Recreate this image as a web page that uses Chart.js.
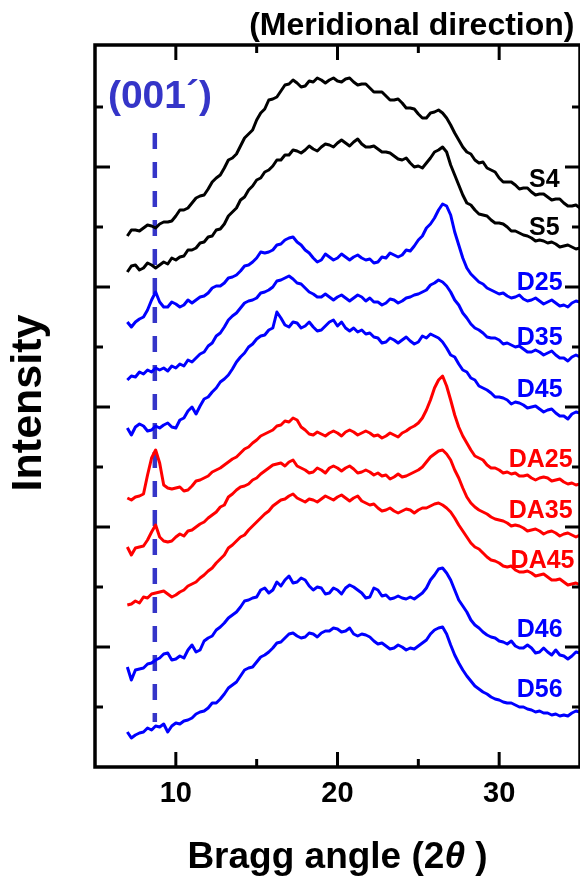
<!DOCTYPE html>
<html lang="en">
<head>
  <meta charset="UTF-8" />
  <title>XRD patterns (meridional direction)</title>
  <script src="https://cdn.jsdelivr.net/npm/chart.js"></script>
  <style>
    html, body { margin: 0; padding: 0; overflow: hidden; background: #fff; }
    #wrap { width: 590px; height: 877px; }
  </style>
</head>
<body>
  <div id="wrap"><canvas id="xrdChart"></canvas></div>

  <script>
    // scan grid: 7 to 35 deg, 0.25 deg step
    const angleStart = 7, angleStep = 0.25;

    // stacked intensities (a.u., offset per sample)
    const s4 = [531,537,537,536,539,542,541,539,543,545,545,546,551,557,557,559,564,569,571,572,578,585,589,592,599,607,609,613,621,629,633,637,647,654,658,667,668,670,676,682,683,687,684,680,681,686,685,689,687,684,687,689,686,685,688,689,685,682,683,683,679,675,675,675,671,667,667,668,664,659,659,658,653,649,649,654,655,657,654,649,642,634,627,620,615,613,607,604,605,599,597,595,589,585,585,585,582,578,579,579,575,572,573,573,570,567,568,568,564,561,561,562,559];
    const s5 = [495,501,502,497,499,504,502,499,502,505,503,509,507,510,511,517,517,519,524,525,530,531,537,538,543,551,555,559,567,570,577,581,587,589,595,597,601,607,607,612,612,617,616,614,617,621,618,616,620,623,622,620,624,627,624,621,625,628,623,620,620,621,618,615,615,614,611,608,607,609,604,600,601,599,604,609,615,617,620,615,602,592,582,572,564,562,557,553,552,551,547,544,544,543,540,536,536,534,532,531,529,526,527,526,524,525,523,520,521,522,520,518,519];
    const d25 = [445,440,445,448,450,457,467,475,465,460,460,465,463,460,462,467,464,467,470,471,474,479,481,481,484,489,490,492,496,501,502,505,509,515,514,515,517,522,523,527,529,530,525,522,517,514,509,505,507,513,510,507,509,513,510,507,510,512,509,507,508,504,505,510,509,514,512,510,512,517,516,521,527,531,539,543,549,557,563,561,552,535,522,509,499,493,489,485,483,479,477,475,473,474,471,469,470,472,468,466,467,469,466,463,465,467,464,461,462,460,464,466,465];
    const d35 = [387,391,390,395,393,397,395,399,397,399,396,401,399,403,401,407,405,409,413,415,421,424,431,434,440,447,451,454,459,464,466,467,469,474,475,477,480,486,487,489,491,488,484,483,479,475,473,470,470,473,470,467,470,472,469,466,469,472,470,466,469,465,465,462,464,468,467,464,466,469,470,472,473,475,477,482,484,487,485,481,475,467,462,454,449,443,439,437,434,430,429,429,427,423,424,422,420,421,418,415,415,417,415,412,414,416,412,409,409,406,410,412,410];
    const d45 = [339,332,340,343,341,336,337,341,339,342,344,340,339,347,349,356,360,353,361,368,370,375,379,385,388,392,398,405,410,414,420,423,428,431,432,437,439,455,449,442,440,445,444,439,441,445,440,436,437,441,445,447,441,445,439,436,439,435,437,433,434,430,429,424,425,429,427,424,427,430,426,423,425,431,429,433,431,429,425,419,412,410,403,397,395,389,387,381,379,377,374,370,370,369,367,363,365,364,362,359,360,361,358,355,357,358,354,351,351,348,353,355,354];
    const da25 = [269,267,270,271,273,292,309,317,304,282,279,278,279,280,276,277,281,286,287,289,291,295,297,299,302,305,308,310,314,318,320,324,327,331,333,335,337,341,342,346,345,349,347,340,337,333,332,335,333,331,334,336,334,331,335,337,335,332,334,336,334,331,332,329,331,334,332,330,334,336,339,341,344,349,357,367,379,387,391,381,367,352,340,331,324,317,311,309,307,302,299,299,297,294,295,293,294,291,291,292,289,287,289,290,289,286,287,288,285,283,284,282,283];
    const da35 = [220,212,219,220,221,227,235,242,230,226,225,226,230,233,231,236,237,240,243,245,249,252,255,260,262,270,273,277,280,281,283,287,289,293,296,299,302,303,304,301,305,307,301,299,297,294,295,299,297,294,299,301,299,296,299,301,298,294,295,297,295,292,294,291,292,288,290,293,290,291,293,295,297,300,305,310,313,316,317,313,307,297,289,279,270,264,260,257,255,253,250,248,247,246,244,241,242,241,239,236,237,238,236,233,235,236,234,231,233,234,232,230,232];
    const da45 = [162,163,166,164,170,169,173,174,175,176,173,170,172,175,177,181,183,185,189,192,196,199,204,208,212,219,222,226,230,232,237,241,245,249,253,256,261,264,267,268,271,273,269,267,265,268,267,265,268,271,269,267,270,272,269,266,269,271,266,264,262,263,259,256,257,259,256,254,256,258,257,254,257,259,259,261,263,264,262,259,255,249,242,236,230,224,220,218,214,210,207,206,204,201,200,201,197,195,195,196,194,191,192,193,190,187,187,188,185,182,183,184,182];
    const d46 = [100,87,97,98,99,103,104,107,109,113,114,107,108,111,109,117,122,115,117,126,129,131,137,140,144,149,152,155,160,166,167,169,170,177,179,174,177,185,181,187,191,184,185,189,187,181,177,180,179,173,174,179,177,173,179,182,180,177,174,169,170,179,177,171,172,168,169,171,169,168,170,168,171,174,179,187,192,198,199,194,187,177,167,161,155,147,142,139,135,132,130,129,126,125,123,126,121,119,119,122,119,114,115,119,115,112,117,112,111,108,111,115,114];
    const d56 = [35,29,32,34,35,39,37,41,40,43,35,41,44,43,46,47,49,53,55,56,59,64,64,68,73,79,82,85,91,97,99,100,105,110,112,115,119,124,125,129,133,134,131,129,130,134,133,130,134,136,136,139,138,135,136,139,133,131,133,132,130,126,123,124,121,118,119,122,120,117,119,118,121,124,127,133,137,139,140,133,122,112,104,97,91,86,81,78,75,73,70,68,67,65,64,64,62,60,60,58,57,55,56,54,54,52,53,51,52,51,54,56,55];

    const seriesNames = ["S4", "S5", "D25", "D35", "D45", "DA25", "DA35", "DA45", "D46", "D56"];
    const seriesValues = [s4, s5, d25, d35, d45, da25, da35, da45, d46, d56];
    const seriesColors = ["#000000", "#000000", "#0000ff", "#0000ff", "#0000ff",
                          "#ff0000", "#ff0000", "#ff0000", "#0000ff", "#0000ff"];

    // (001') reflection marker
    const peakLabel = "(001\u00b4)";
    const peakAngle = 8.7;
    const peakSpan = [634, 45];

    // axis tick values
    const xMajor = [10, 20, 30];
    const xMinor = [15, 25];
    const yMajor = [120, 240, 360, 480, 600];
    const yMinor = [60, 180, 300, 420, 540, 660];

    // where the sample names sit (angle of right edge, intensity of baseline)
    const nameAnchors = [[33.74, 580], [33.74, 532], [33.92, 477], [33.92, 422], [33.92, 370],
                         [34.54, 300], [34.54, 249], [34.66, 199], [33.92, 130], [33.92, 70]];

    const FONT = '"Liberation Sans", Arial, sans-serif';
    const markerColor = "#3535c8";

    const angles = seriesValues[0].map((_, i) => angleStart + i * angleStep);

    const datasets = seriesValues.map((vals, k) => ({
      label: seriesNames[k],
      data: vals.map((v, i) => ({ x: angles[i], y: v })),
      borderColor: seriesColors[k],
      borderWidth: 3,
      pointRadius: 0,
      tension: 0,
      fill: false,
      borderJoinStyle: "round"
    }));
    datasets.push({
      label: "(001')",
      data: peakSpan.map(v => ({ x: peakAngle, y: v })),
      borderColor: markerColor,
      borderWidth: 4.5,
      borderDash: [16, 13],
      pointRadius: 0,
      fill: false
    });

    function seg(ctx, x1, y1, x2, y2) {
      ctx.beginPath();
      ctx.moveTo(x1, y1);
      ctx.lineTo(x2, y2);
      ctx.stroke();
    }

    const framePlugin = {
      id: "frame",
      afterDraw(chart) {
        const { ctx, chartArea: a } = chart;
        const x = chart.scales.x, y = chart.scales.y;
        ctx.save();
        ctx.strokeStyle = "#000";
        ctx.lineCap = "butt";
        ctx.lineWidth = 3;

        // inward ticks on all four sides
        [[xMajor, 15], [xMinor, 8]].forEach(([vals, len]) => vals.forEach(v => {
          const px = x.getPixelForValue(v);
          seg(ctx, px, a.bottom, px, a.bottom - len);
          seg(ctx, px, a.top, px, a.top + len);
        }));
        [[yMajor, 15], [yMinor, 8]].forEach(([vals, len]) => vals.forEach(v => {
          const py = y.getPixelForValue(v);
          seg(ctx, a.left, py, a.left + len, py);
          seg(ctx, a.right, py, a.right - len, py);
        }));

        ctx.lineWidth = 3.5;
        ctx.lineCap = "square";
        ctx.strokeRect(a.left, a.top, a.right - a.left, a.bottom - a.top);

        // sample names
        ctx.font = "bold 25px " + FONT;
        ctx.textAlign = "right";
        ctx.textBaseline = "alphabetic";
        seriesNames.forEach((name, k) => {
          ctx.fillStyle = seriesColors[k];
          ctx.fillText(name, x.getPixelForValue(nameAnchors[k][0]), y.getPixelForValue(nameAnchors[k][1]));
        });

        // (001') label
        ctx.fillStyle = markerColor;
        ctx.font = "bold 39px " + FONT;
        ctx.textAlign = "left";
        ctx.fillText(peakLabel, x.getPixelForValue(5.8), y.getPixelForValue(659));

        // header
        ctx.fillStyle = "#000";
        ctx.font = "bold 32px " + FONT;
        ctx.textAlign = "right";
        ctx.fillText("(Meridional direction)", a.right - 5.5, a.top - 10);

        // x title with italic theta
        const parts = [["Bragg angle (2", "bold 37px "], ["\u03b8", "italic bold 37px "], [" )", "bold 37px "]];
        let total = 0;
        parts.forEach(p => { ctx.font = p[1] + FONT; total += ctx.measureText(p[0]).width; });
        let cx = x.getPixelForValue(20) - total / 2;
        ctx.textAlign = "left";
        parts.forEach(p => {
          ctx.font = p[1] + FONT;
          ctx.fillText(p[0], cx, a.bottom + 101);
          cx += ctx.measureText(p[0]).width;
        });

        // y title
        ctx.save();
        ctx.translate(29, (a.top + a.bottom) / 2 - 3);
        ctx.rotate(-Math.PI / 2);
        ctx.textAlign = "center";
        ctx.textBaseline = "middle";
        ctx.font = "bold 43px " + FONT;
        ctx.fillText("Intensity", 0, 0);
        ctx.restore();

        ctx.restore();
      }
    };

    new Chart(document.getElementById("xrdChart"), {
      type: "line",
      data: { datasets },
      options: {
        responsive: true,
        maintainAspectRatio: false,
        animation: false,
        layout: { padding: { left: 0, right: 7.5, top: 45, bottom: 0 } },
        plugins: { legend: { display: false }, tooltip: { enabled: false } },
        scales: {
          x: {
            type: "linear",
            min: 5,
            max: 35,
            grid: { display: false, drawTicks: false },
            border: { display: false },
            ticks: {
              stepSize: 5,
              padding: 10,
              color: "#000",
              font: { family: FONT, size: 29, weight: "bold" },
              callback: v => (xMajor.includes(v) ? String(v) : "")
            },
            afterFit: s => { s.height = 110; }
          },
          y: {
            min: 0,
            max: 722,
            grid: { display: false, drawTicks: false },
            border: { display: false },
            ticks: { display: false },
            afterFit: s => { s.width = 95; }
          }
        }
      },
      plugins: [framePlugin]
    });
  </script>
</body>
</html>
